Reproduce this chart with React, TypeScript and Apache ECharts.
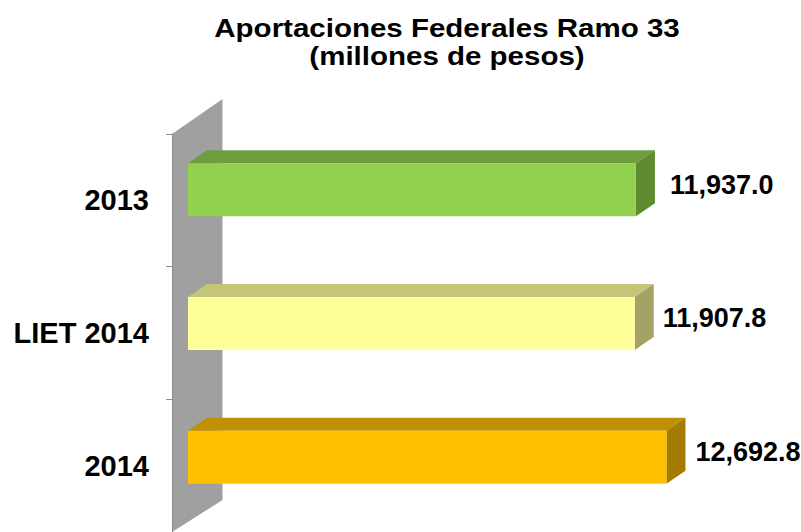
import React, { useEffect, useRef } from "react";
import * as echarts from "echarts";

const categories = ["2013", "LIET 2014", "2014"];
const values = [11937.0, 11907.8, 12692.8];
const labels = ["11,937.0", "11,907.8", "12,692.8"];
const fronts = ["#92D050", "#FFFF99", "#FFC000"];
const tops = ["#6F9C3D", "#C4C47A", "#BF9000"];
const sides = ["#5E8A30", "#A3A366", "#A67C00"];
const labelDx = [34, 28, 29];
const labelDy = [-5, -6, -5];
const barShift = [0, 1, 2];
const titleLines = "Aportaciones Federales Ramo 33\n(millones de pesos)";
const AXIS_MIN = 850;
const AXIS_MAX = 13000;

const DEPTH_X = 19;
const DEPTH_Y = 13;
const FRONT_UP = 37;
const FRONT_DOWN = 16;

const renderItem = (params: any, api: any) => {
  const i = params.dataIndex;
  const [x1, yc] = api.coord([api.value(0), i]);
  const [x0] = api.coord([AXIS_MIN, i]);
  const t = yc - FRONT_UP + barShift[i];
  const b = yc + FRONT_DOWN + barShift[i];
  return {
    type: "group",
    children: [
      { type: "polygon", shape: { points: [[x0, t], [x0 + DEPTH_X, t - DEPTH_Y], [x1 + DEPTH_X, t - DEPTH_Y], [x1, t]] }, style: { fill: tops[i] } },
      { type: "polygon", shape: { points: [[x1, t], [x1 + DEPTH_X, t - DEPTH_Y], [x1 + DEPTH_X, b - DEPTH_Y], [x1, b]] }, style: { fill: sides[i] } },
      { type: "rect", shape: { x: x0, y: t, width: x1 - x0, height: b - t }, style: { fill: fronts[i] } },
      { type: "text", x: x1 + labelDx[i], y: (t + b) / 2 + labelDy[i], style: { text: labels[i], fill: "#000", font: 'bold 27px "Liberation Sans"', textAlign: "left", textVerticalAlign: "middle" } },
    ],
  };
};

export default function App() {
  const ref = useRef<HTMLDivElement>(null);
  useEffect(() => {
    const chart = echarts.init(ref.current!, undefined, { renderer: "svg" });
    chart.setOption({
      animation: false,
      backgroundColor: "#fff",
      grid: { left: 188, top: 134, width: (AXIS_MAX - AXIS_MIN) * 0.0404, height: 398 },
      xAxis: { type: "value", min: AXIS_MIN, max: AXIS_MAX, show: false },
      yAxis: {
        type: "category",
        data: categories,
        inverse: true,
        offset: 16,
        axisLine: { show: true, lineStyle: { color: "#8c8c8c", width: 1 } },
        axisTick: { show: true, length: 6, lineStyle: { color: "#8c8c8c" } },
        axisLabel: { margin: 23, fontFamily: "Liberation Sans", fontWeight: "bold", fontSize: 29, color: "#000" },
        splitLine: { show: false },
      },
      graphic: [
        { type: "polygon", z: -1, shape: { points: [[172, 134], [222.5, 99], [222.5, 500], [172, 532]] }, style: { fill: "#A0A0A0" } },
        {
          type: "text",
          x: 447,
          y: 15,
          scaleX: 1.18,
          style: { text: titleLines, fill: "#000", font: 'bold 25px "Liberation Sans"', lineHeight: 27.5, textAlign: "center", textVerticalAlign: "top" },
        },
      ],
      series: [
        { type: "custom", renderItem, clip: false, data: values.map((v, i) => [v, i]), encode: { x: 0, y: 1 }, z: 5 },
      ],
    });
    return () => chart.dispose();
  }, []);
  return <div ref={ref} style={{ width: 801, height: 532, position: "absolute", left: 0, top: 0 }} />;
}
